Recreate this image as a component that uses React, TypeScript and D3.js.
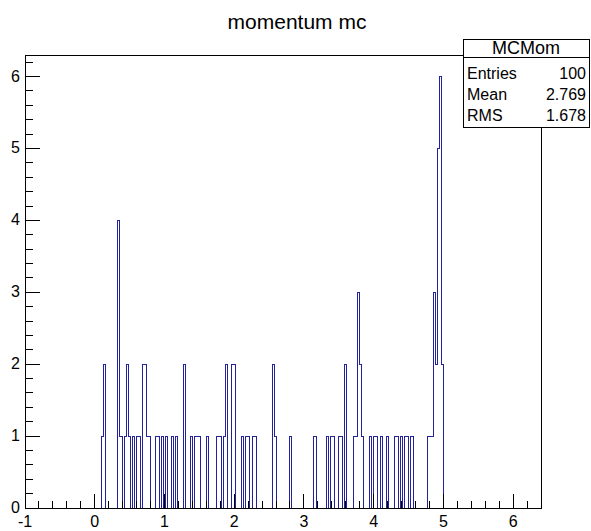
import React from "react";
import * as d3 from "d3";

// histogram definition (ROOT TH1F "MCMom")
const histTitle = "momentum mc";
const histName = "MCMom";
const nBins = 250;
const xMin = -1;
const xMax = 6.4;
const yMax = 6.3;

// non-empty bins: bin index and content
const binIndex = [
  37, 38, 45, 46, 48, 49, 50, 52, 54, 55, 57, 58, 59, 60, 63, 64, 66, 68, 71, 73,
  77, 80, 82, 83, 84, 88, 93, 94, 96, 97, 100, 101, 105, 107, 108, 110, 111, 120,
  121, 128, 140, 146, 148, 149, 152, 153, 155, 159, 160, 161, 162, 163, 167, 169,
  170, 172, 175, 179, 180, 182, 184, 185, 187, 195, 196, 197, 198, 199, 200, 201, 202,
];
const binCount = [
  1, 2, 4, 1, 1, 2, 1, 1, 1, 1, 2, 2, 1, 1, 1, 1, 1, 1, 1, 1,
  2, 1, 1, 1, 1, 1, 1, 1, 1, 2, 2, 2, 1, 1, 1, 1, 1, 2,
  1, 1, 1, 1, 1, 1, 1, 1, 2, 1, 1, 3, 2, 1, 1, 1,
  1, 1, 1, 1, 1, 1, 1, 1, 1, 1, 1, 1, 3, 2, 5, 6, 2,
];

const statLabels = ["Entries", "Mean", "RMS"];
const statValues = ["100", "2.769", "1.678"];

const xMajor = [-1, 0, 1, 2, 3, 4, 5, 6];
const yMajor = [0, 1, 2, 3, 4, 5, 6];

const W = 591;
const H = 531;
const frame = { left: 25, right: 541, top: 55, bottom: 508 };
const font = "'Liberation Sans', Arial, sans-serif";
const lineColor = "#22229a";

export default function App() {
  const x = d3.scaleLinear().domain([xMin, xMax]).range([frame.left, frame.right]);
  const y = d3.scaleLinear().domain([0, yMax]).range([frame.bottom, frame.top]);

  const counts = new Array(nBins).fill(0);
  binIndex.forEach((b, i) => (counts[b] = binCount[i]));
  const bw = (xMax - xMin) / nBins;

  const pts: [number, number][] = [[xMin, 0]];
  counts.forEach((c, i) => {
    pts.push([xMin + i * bw, c]);
    pts.push([xMin + (i + 1) * bw, c]);
  });
  pts.push([xMax, 0]);
  const line = d3
    .line<[number, number]>()
    .x((d) => x(d[0]))
    .y((d) => y(d[1]));

  const xMinor = d3.range(0, 38).map((i) => xMin + i * 0.2).filter((v) => v <= xMax + 1e-9);
  const yMinor = d3.range(0, 32).map((i) => i * 0.2).filter((v) => v <= yMax + 1e-9);

  return (
    <svg
      width={W}
      height={H}
      style={{ position: "absolute", left: 0, top: 0, background: "#fff" }}
      fontFamily={font}
    >
      <rect x={0} y={0} width={W} height={H} fill="#fff" />
      <text x={297} y={29} textAnchor="middle" fontSize={21} fill="#000">
        {histTitle}
      </text>

      {/* histogram */}
      <path d={line(pts) || ""} fill="none" stroke={lineColor} strokeWidth={1} shapeRendering="crispEdges" />

      {/* frame */}
      <rect
        x={frame.left}
        y={frame.top}
        width={frame.right - frame.left}
        height={frame.bottom - frame.top}
        fill="none"
        stroke="#000"
        strokeWidth={1}
        shapeRendering="crispEdges"
      />

      {/* axis ticks */}
      <g stroke="#000" strokeWidth={1} shapeRendering="crispEdges">
        {xMinor.map((v, i) => {
          const major = Math.abs(v - Math.round(v)) < 1e-6;
          return (
            <line key={"xm" + i} x1={x(v)} x2={x(v)} y1={frame.bottom} y2={frame.bottom - (major ? 14 : 7)} />
          );
        })}
        {yMinor.map((v, i) => {
          const major = Math.abs(v - Math.round(v)) < 1e-6;
          return (
            <line key={"ym" + i} x1={frame.left} x2={frame.left + (major ? 15 : 7.5)} y1={y(v)} y2={y(v)} />
          );
        })}
      </g>
      {xMajor.map((v) => (
        <text key={"xl" + v} x={x(v)} y={527} textAnchor="middle" fontSize={16} fill="#000">
          {v}
        </text>
      ))}
      {yMajor.map((v) => (
        <text key={"yl" + v} x={20} y={y(v) + 5} textAnchor="end" fontSize={16} fill="#000">
          {v}
        </text>
      ))}

      {/* stats box */}
      <g>
        <rect x={463} y={39} width={126} height={88} fill="#fff" stroke="#000" strokeWidth={1} shapeRendering="crispEdges" />
        <line x1={463} x2={589} y1={57} y2={57} stroke="#000" strokeWidth={1} shapeRendering="crispEdges" />
        <text x={526} y={54} textAnchor="middle" fontSize={18} fill="#000">
          {histName}
        </text>
        {statLabels.map((s, i) => (
          <g key={s}>
            <text x={467} y={79 + i * 21} fontSize={16} fill="#000">
              {s}
            </text>
            <text x={586} y={79 + i * 21} textAnchor="end" fontSize={16} fill="#000">
              {statValues[i]}
            </text>
          </g>
        ))}
      </g>
    </svg>
  );
}
